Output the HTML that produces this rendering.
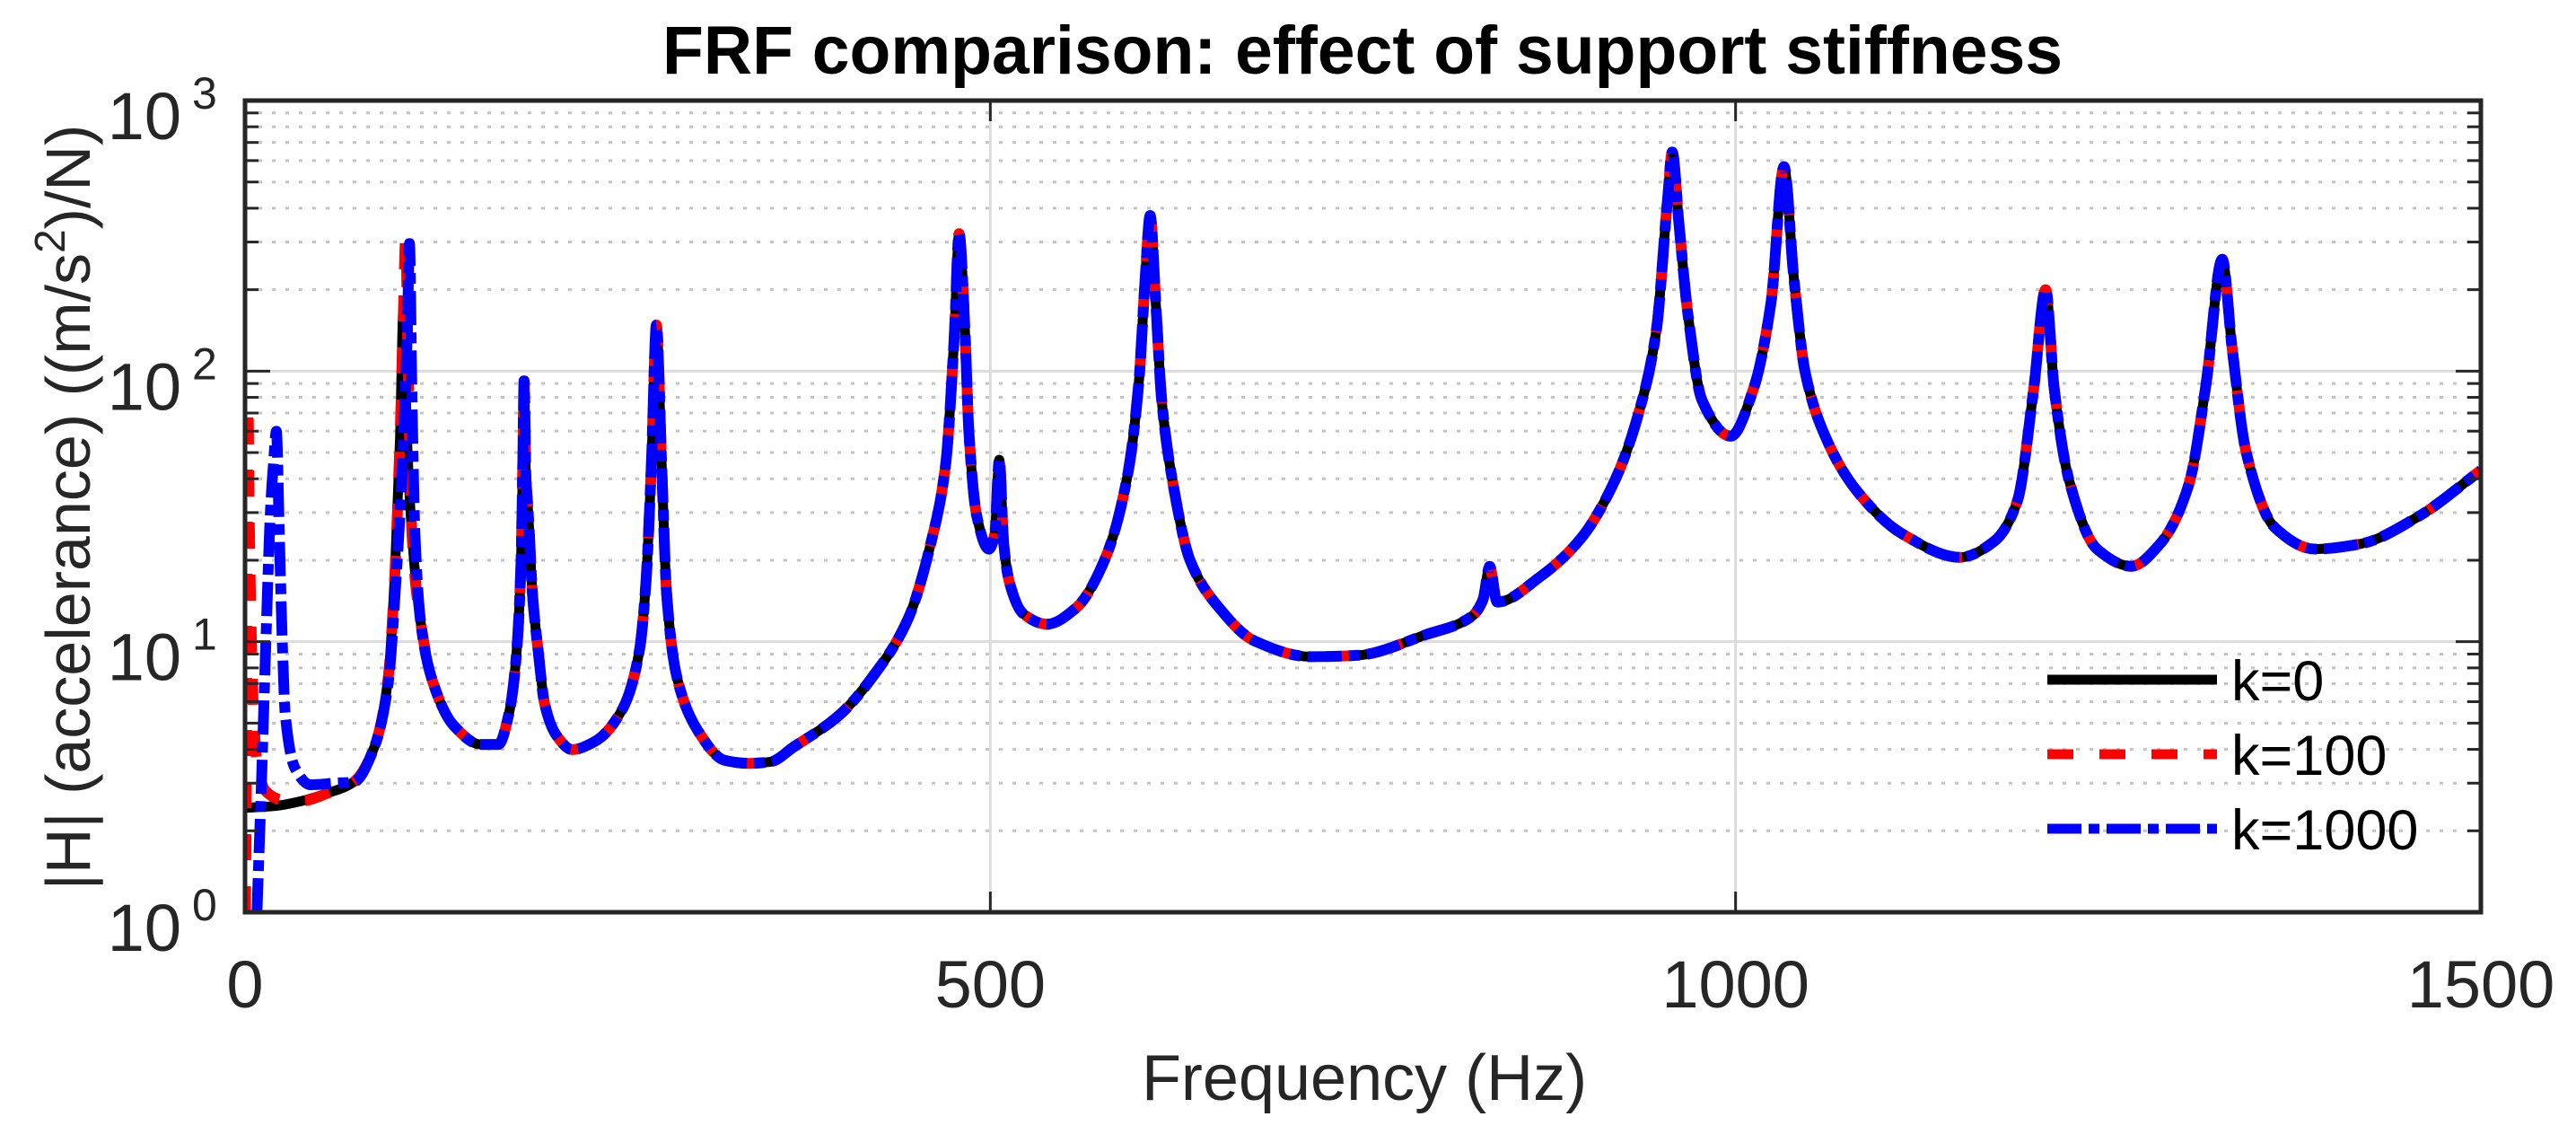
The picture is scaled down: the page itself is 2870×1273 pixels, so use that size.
<!DOCTYPE html>
<html><head><meta charset="utf-8"><style>
html,body{margin:0;padding:0;background:#fff;}
svg{display:block;font-family:"Liberation Sans",Arial,sans-serif;}
</style></head><body>
<svg id="chart" width="2870" height="1273" viewBox="0 0 2870 1273" xmlns="http://www.w3.org/2000/svg">
<defs><clipPath id="plotclip"><rect x="273" y="112" width="2491" height="904"/></clipPath></defs>
<rect x="0" y="0" width="2870" height="1273" fill="#fff"/>
<g id="grid"></g>
<g id="series" clip-path="url(#plotclip)"></g>
<g id="axes"></g>
<text x="1518" y="82" text-anchor="middle" font-size="76" font-weight="bold" fill="#000" textLength="1560" lengthAdjust="spacingAndGlyphs">FRF comparison: effect of support stiffness</text>
<text x="1520" y="1225" text-anchor="middle" font-size="72" fill="#262626">Frequency (Hz)</text>
<text transform="translate(100,565) rotate(-90)" text-anchor="middle" font-size="70" fill="#262626">|H| (accelerance)  ((m/s<tspan font-size="48" dy="-28">2</tspan><tspan dy="28">)/N)</tspan></text>
<g id="legend"></g>
</svg>
<script>
// ---- data ----
const xTicks = [0, 500, 1000, 1500];
const yTickExps = [0, 1, 2, 3];
const seriesNames = ["k=0", "k=100", "k=1000"];
// low-frequency part, per series
const headK0F = [0, 20, 38.3, 55, 72.9, 86.7, 96, 100.6, 104, 106.4, 108.5, 112];
const headK0V = [2.43, 2.47, 2.58, 2.75, 3.03, 4.07, 7.3, 18.3, 57, 178, 60, 25];
const headK100F = [0.3, 1, 2, 2.8, 4, 6, 9, 14, 25, 38.3, 55, 72.9, 86.7, 96, 100.6, 104, 106, 107.7, 109.5, 112];
const headK100V = [1, 4, 75, 30, 12, 5, 3.3, 2.8, 2.6, 2.58, 2.75, 3.03, 4.07, 7.3, 18.3, 57, 140, 307, 100, 25];
const headK1000F = [8, 11, 14, 17, 19, 21, 23, 25, 27, 33.6, 44, 60, 72.9, 86.7, 96, 101, 106, 109, 110.3, 112, 114];
const headK1000V = [1, 3, 10, 30, 45, 60, 25, 10, 5.4, 3.4, 2.96, 3.0, 3.03, 4.07, 7.0, 16, 50, 150, 296, 80, 25];
// common part (all three series coincide)
const tailF = [118, 126, 140, 158, 170, 177, 181.4, 185, 186.2, 187.2, 188.5, 190, 193, 196.7, 201, 209, 219.5, 234.5, 253, 264.5, 269, 272.6, 276, 279.5, 283, 290, 303.7, 322, 338,
  352.6, 368, 399, 421.7, 445, 460, 470, 476, 479, 483, 485.6, 491, 499, 503, 506, 509, 512.8, 522, 538, 557.4, 576.6, 592, 599.6, 604, 607.2, 611, 615, 622.7, 634, 653.7, 676.8, 715, 746, 792, 823, 830.5, 835, 840, 869, 896, 919.5, 935.3,
  946.8, 954.5, 957.5, 962, 968, 977.5, 996.7, 1012, 1023.7, 1032.5, 1039, 1046.7, 1062, 1081.5, 1112, 1150.5, 1173.5, 1189, 1200, 1208, 1213.8, 1223.5, 1242.5, 1265.6, 1284.8, 1304, 1315.7, 1326.5, 1333, 1342.6, 1361.8, 1388.7, 1419.5, 1458, 1500];
const tailV = [11.6, 7.1, 4.9, 4.17, 4.17, 5.4, 8.1, 18.3, 40, 92, 40, 30, 14.6, 9.2, 5.9, 4.5, 3.99, 4.27, 5.6, 9.2, 16.6, 45, 148, 45, 14.6, 7.3, 4.7, 3.64, 3.55,
  3.6, 4.08, 5.37, 7.5, 12.2, 23, 45, 141, 322, 141, 60, 29, 22, 25, 47, 23, 16.6, 12.7, 11.6, 13.3, 20, 41, 90, 224, 376, 178, 78, 38, 20, 13.3, 10.1, 8.8, 8.9, 10.6, 12.4, 14.3, 19, 14.0, 17.4, 24, 40, 71,
  141, 440, 645, 350, 163, 78, 57.5, 86, 178, 570, 224, 99, 54.5, 36, 25, 20.5, 23.5, 33, 86, 200, 86, 40, 22, 19, 23, 38, 90, 259, 123, 50, 26.4, 22, 23, 29, 43];

// ---- axes mapping ----
const PL = 273, PR = 2764, PT = 112, PB = 1016;
const X = f => PL + (f - 0) / 1500 * (PR - PL);
const Y = v => PB - Math.log10(v) / 3 * (PB - PT);
const NS = "http://www.w3.org/2000/svg";
function mk(tag, attrs, parent) { const e = document.createElementNS(NS, tag); for (const k in attrs) e.setAttribute(k, attrs[k]); parent.appendChild(e); return e; }
const grid = document.getElementById('grid'), axes = document.getElementById('axes'), ser = document.getElementById('series'), leg = document.getElementById('legend');

// minor y gridlines
for (let d = 0; d < 3; d++) for (let m = 2; m <= 9; m++) {
  const y = Y(m * Math.pow(10, d));
  const l = mk('line', {x1: PL, x2: PR, y1: y, y2: y, stroke: '#c4c4c4', 'stroke-width': 3, 'stroke-dasharray': '4 11'}, grid);
  
  
}
// major gridlines
yTickExps.forEach(e => { if (e > 0 && e < 3) { const y = Y(Math.pow(10, e));
  const l = mk('line', {x1: PL, x2: PR, y1: y, y2: y, stroke: '#dcdcdc', 'stroke-width': 3}, grid);
  
   } });
xTicks.forEach(t => { if (t > 0 && t < 1500) { const x = X(t);
  const l = mk('line', {x1: x, x2: x, y1: PT, y2: PB, stroke: '#dcdcdc', 'stroke-width': 3}, grid);
  
   } });

// monotone cubic path through points (rendering only)
function pathFrom(F, V) {
  const xs = F.map(X), ys = V.map(Y), n = xs.length;
  const dx = [], s = [];
  for (let i = 0; i < n - 1; i++) { dx.push(xs[i+1] - xs[i]); s.push((ys[i+1] - ys[i]) / (xs[i+1] - xs[i])); }
  const m = new Array(n);
  m[0] = s[0]; m[n-1] = s[n-2];
  for (let i = 1; i < n - 1; i++) {
    if (s[i-1] * s[i] <= 0) m[i] = 0;
    else { const w1 = 2*dx[i] + dx[i-1], w2 = dx[i] + 2*dx[i-1]; m[i] = (w1 + w2) / (w1 / s[i-1] + w2 / s[i]); }
  }
  let d = 'M' + xs[0].toFixed(1) + ',' + ys[0].toFixed(1);
  for (let i = 0; i < n - 1; i++) {
    const h = dx[i] / 3;
    d += ' C' + (xs[i] + h).toFixed(1) + ',' + (ys[i] + m[i]*h).toFixed(1) + ' ' + (xs[i+1] - h).toFixed(1) + ',' + (ys[i+1] - m[i+1]*h).toFixed(1) + ' ' + xs[i+1].toFixed(1) + ',' + ys[i+1].toFixed(1);
  }
  return d;
}
const styles = [
  {F: headK0F.concat(tailF), V: headK0V.concat(tailV), c: '#000000', d: 'none', w: 11},
  {F: headK100F.concat(tailF), V: headK100V.concat(tailV), c: '#ff0000', d: '29 29', w: 12},
  {F: headK1000F.concat(tailF), V: headK1000V.concat(tailV), c: '#0000ff', d: '38 8 12 8', w: 12}
];
styles.forEach((s, i) => {
  const p = mk('path', {d: pathFrom(s.F, s.V), fill: 'none', stroke: s.c, 'stroke-width': s.w, 'stroke-dasharray': s.d, 'stroke-linejoin': 'round'}, ser);
  
  
});

// axis box
const box = mk('rect', {x: PL, y: PT, width: PR - PL, height: PB - PT, fill: 'none', stroke: '#262626', 'stroke-width': 5}, axes);


// y ticks
for (let d = 0; d <= 3; d++) for (let m = 1; m <= 9; m++) {
  if (d === 3 && m > 1) break;
  const y = Y(m * Math.pow(10, d)), len = m === 1 ? 28 : 15;
  [[PL, PL + len], [PR, PR - len]].forEach(([a, b]) => {
    const t = mk('line', {x1: a, x2: b, y1: y, y2: y, stroke: '#262626', 'stroke-width': 3}, axes);
    
    
  });
}
yTickExps.forEach(e => {
  const y = Y(Math.pow(10, e));
  const t = mk('text', {x: 202, y: y + 43, 'text-anchor': 'end', 'font-size': 74, fill: '#262626'}, axes);
  t.textContent = '10';
  
  
  const s = mk('text', {x: 214, y: y + 9, 'font-size': 50, fill: '#262626'}, axes);
  s.textContent = String(e);
  
  
});
// x ticks
xTicks.forEach(v => {
  const x = X(v);
  [[PB, PB - 23], [PT, PT + 23]].forEach(([a, b]) => {
    const t = mk('line', {x1: x, x2: x, y1: a, y2: b, stroke: '#262626', 'stroke-width': 3}, axes);
    
    
  });
  const t = mk('text', {x: x, y: 1122, 'text-anchor': 'middle', 'font-size': 74, fill: '#262626'}, axes);
  t.textContent = String(v);
  
  
});

// legend
const legY = [757, 840, 923];
styles.forEach((s, i) => {
  const l = mk('line', {x1: 2281, x2: 2470, y1: legY[i], y2: legY[i], stroke: s.c, 'stroke-width': 11, 'stroke-dasharray': s.d}, leg);
  
  
  const t = mk('text', {x: 2486, y: legY[i] + 23, 'font-size': 63, fill: '#000'}, leg);
  t.textContent = seriesNames[i];
  
  
});
</script>
</body></html>
